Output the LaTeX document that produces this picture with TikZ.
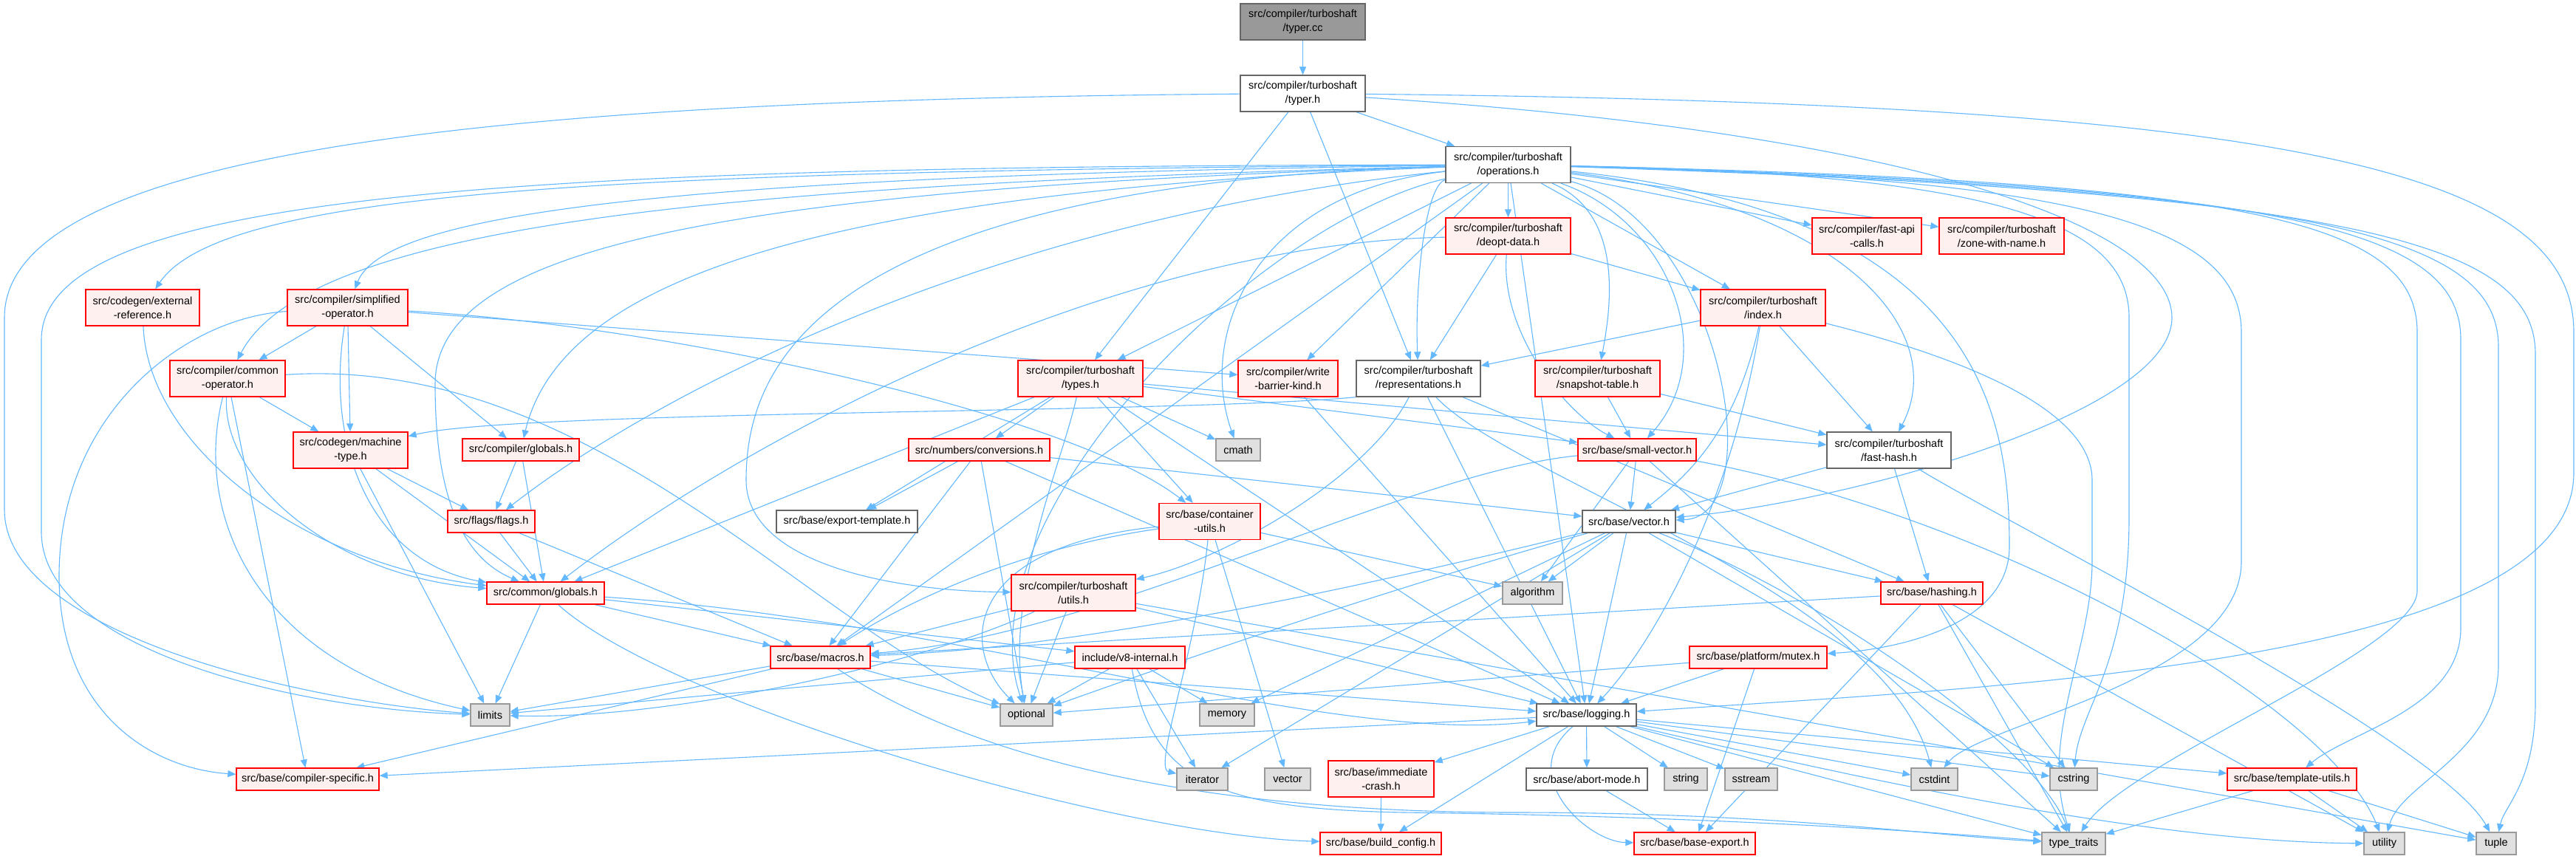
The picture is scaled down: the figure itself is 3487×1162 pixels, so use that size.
\documentclass[tikz,border=0pt]{standalone}
\usepackage{fontspec}
\setmainfont{Liberation Sans}
\usetikzlibrary{arrows.meta}
\definecolor{linkblue}{HTML}{63B8FF}
\definecolor{hdrfill}{HTML}{FFF0F0}
\definecolor{sysfill}{HTML}{E0E0E0}
\definecolor{sysline}{HTML}{999999}
\definecolor{plainline}{HTML}{666666}
\pgfdeclarelayer{bg}
\pgfsetlayers{bg,main}

\begin{document}
\begin{tikzpicture}[x=1pt,y=-1pt,
  box/.style={draw,line width=1.3pt,inner sep=0pt,align=center,minimum height=30pt,
    font=\fontsize{14.5}{19}\selectfont},
  two/.style={minimum height=49pt},
  hdr/.style={box,draw=red,fill=hdrfill},
  plain/.style={box,draw=plainline,fill=white},
  sys/.style={box,draw=sysline,fill=sysfill},
  rootbox/.style={box,draw=plainline,fill=sysline},
  dep/.style={draw=linkblue,line width=1.1pt,-{Triangle[length=11pt,width=9pt]}}]
\useasboundingbox (0,0) rectangle (3487,1162);

% files
\node[rootbox,two,minimum width=169] (typercc) at (1763.5,29.5) {src/compiler/turboshaft\\/typer.cc};
\node[plain,two,minimum width=169] (typerh) at (1763.5,126.5) {src/compiler/turboshaft\\/typer.h};
\node[plain,two,minimum width=169] (ops) at (2041.5,223) {src/compiler/turboshaft\\/operations.h};
\node[hdr,two,minimum width=169] (deopt) at (2041.5,319.5) {src/compiler/turboshaft\\/deopt-data.h};
\node[hdr,two,minimum width=148] (fastapi) at (2527,319.5) {src/compiler/fast-api\\-calls.h};
\node[hdr,two,minimum width=169] (zone) at (2709.5,319.5) {src/compiler/turboshaft\\/zone-with-name.h};
\node[hdr,two,minimum width=154] (extref) at (193,416.5) {src/codegen/external\\-reference.h};
\node[hdr,two,minimum width=163] (simpop) at (470.5,416.5) {src/compiler/simplified\\-operator.h};
\node[hdr,two,minimum width=169] (index) at (2386.5,416.5) {src/compiler/turboshaft\\/index.h};
\node[hdr,two,minimum width=156] (commonop) at (308,512.5) {src/compiler/common\\-operator.h};
\node[hdr,two,minimum width=169] (types) at (1462.5,512.5) {src/compiler/turboshaft\\/types.h};
\node[hdr,two,minimum width=135] (wbk) at (1743.5,512.5) {src/compiler/write\\-barrier-kind.h};
\node[plain,two,minimum width=168] (repr) at (1920,512.5) {src/compiler/turboshaft\\/representations.h};
\node[hdr,two,minimum width=169] (snap) at (2162.5,512.5) {src/compiler/turboshaft\\/snapshot-table.h};
\node[hdr,two,minimum width=155] (machtype) at (474.5,609.5) {src/codegen/machine\\-type.h};
\node[hdr,minimum width=158] (cglobals) at (705,609) {src/compiler/globals.h};
\node[hdr,minimum width=191] (conv) at (1325.5,609) {src/numbers/conversions.h};
\node[sys,minimum width=60] (cmath) at (1676,609) {cmath};
\node[hdr,minimum width=160] (smallvec) at (2216,609) {src/base/small-vector.h};
\node[plain,two,minimum width=168] (fasthash) at (2557,609.5) {src/compiler/turboshaft\\/fast-hash.h};
\node[hdr,minimum width=118] (flags) at (665,706) {src/flags/flags.h};
\node[plain,minimum width=191] (exptmpl) at (1146.5,706) {src/base/export-template.h};
\node[hdr,two,minimum width=137] (contutils) at (1637.5,706) {src/base/container\\-utils.h};
\node[plain,minimum width=126] (vectorh) at (2205,706) {src/base/vector.h};
\node[hdr,minimum width=159] (globals) at (738.5,803) {src/common/globals.h};
\node[hdr,two,minimum width=168] (utils) at (1453,802.5) {src/compiler/turboshaft\\/utils.h};
\node[sys,minimum width=81] (algorithm) at (2074.5,803) {algorithm};
\node[hdr,minimum width=138] (hashing) at (2615,803) {src/base/hashing.h};
\node[hdr,minimum width=135] (macros) at (1110.5,890) {src/base/macros.h};
\node[hdr,minimum width=149] (v8int) at (1529.5,890) {include/v8-internal.h};
\node[hdr,minimum width=186] (mutex) at (2380,890) {src/base/platform/mutex.h};
\node[sys,minimum width=53] (limits) at (663.5,968) {limits};
\node[sys,minimum width=71] (optional) at (1389.5,968) {optional};
\node[sys,minimum width=74] (memory) at (1661,968) {memory};
\node[plain,minimum width=135] (logging) at (2147.5,968) {src/base/logging.h};
\node[hdr,minimum width=193] (compspec) at (416.5,1055) {src/base/compiler-specific.h};
\node[sys,minimum width=69] (iterator) at (1627.5,1055) {iterator};
\node[sys,minimum width=62] (vector) at (1743,1055) {vector};
\node[hdr,two,minimum width=143] (immcrash) at (1869.5,1054.5) {src/base/immediate\\-crash.h};
\node[plain,minimum width=164] (abort) at (2148,1055) {src/base/abort-mode.h};
\node[sys,minimum width=58] (string) at (2282,1055) {string};
\node[sys,minimum width=71] (sstream) at (2370.5,1055) {sstream};
\node[sys,minimum width=63] (cstdint) at (2618.5,1055) {cstdint};
\node[sys,minimum width=64] (cstring) at (2807,1055) {cstring};
\node[hdr,minimum width=175] (templutils) at (3102.5,1055) {src/base/template-utils.h};
\node[hdr,minimum width=164] (buildcfg) at (1869,1142) {src/base/build\_config.h};
\node[hdr,minimum width=164] (baseexport) at (2294,1142) {src/base/base-export.h};
\node[sys,minimum width=86] (typetraits) at (2807,1142) {type\_traits};
\node[sys,minimum width=55] (utility) at (3227.5,1142) {utility};
\node[sys,minimum width=54] (tuple) at (3379,1142) {tuple};

\begin{pgfonlayer}{bg}
\fill[white] (0,0) rectangle (3487,1162);
% typer
\draw[dep] (typercc) -- (typerh);
\draw[dep] (typerh) -- (ops);
\draw[dep] (typerh) -- (types);
\draw[dep] (typerh) -- (repr);
\draw[dep] (typerh) .. controls (700,135) and (6,200) .. (6,430) -- (6,690) .. controls (6,860) and (420,950) .. (limits);
\draw[dep] (typerh) .. controls (3100,140) and (3484,230) .. (3484,450) -- (3484,640) .. controls (3484,900) and (2700,930) .. (logging);
\draw[dep] (typerh) .. controls (2600,180) and (2940,310) .. (2940,430) .. controls (2940,560) and (2500,680) .. (vectorh);
% operations.h
\draw[dep] (ops) -- (deopt);
\draw[dep] (ops) -- (fastapi);
\draw[dep] (ops) -- (zone);
\draw[dep] (ops) -- (index);
\draw[dep] (ops) -- (types);
\draw[dep] (ops) -- (wbk);
\draw[dep] (ops) -- (macros);
\draw[dep] (ops) -- (logging);
\draw[dep] (ops) .. controls (1930,250) and (1915,380) .. (repr);
\draw[dep] (ops) .. controls (2200,290) and (2180,420) .. (snap);
\draw[dep] (ops) .. controls (1700,260) and (1620,450) .. (cmath);
\draw[dep] (ops) .. controls (2260,300) and (2330,480) .. (smallvec);
\draw[dep] (ops) .. controls (2500,280) and (2640,450) .. (fasthash);
\draw[dep] (ops) .. controls (2330,300) and (2400,700) .. (vectorh);
\draw[dep] (ops) .. controls (1700,300) and (1300,700) .. (optional);
\draw[dep] (ops) .. controls (1100,250) and (1010,500) .. (1010,650) .. controls (1010,760) and (1200,800) .. (utils);
\draw[dep] (ops) .. controls (800,232) and (300,260) .. (extref);
\draw[dep] (ops) .. controls (900,238) and (520,290) .. (simpop);
\draw[dep] (ops) .. controls (1000,250) and (420,300) .. (commonop);
\draw[dep] (ops) .. controls (1100,260) and (760,380) .. (cglobals);
\draw[dep] (ops) .. controls (1300,300) and (850,560) .. (flags);
\draw[dep] (ops) .. controls (1000,255) and (589,330) .. (589,520) .. controls (589,700) and (640,760) .. (globals);
\draw[dep] (ops) .. controls (700,225) and (56,260) .. (56,460) -- (56,720) .. controls (56,880) and (400,960) .. (limits);
\draw[dep] (ops) .. controls (2700,235) and (2882,300) .. (2882,430) -- (2882,700) .. controls (2882,900) and (2815,960) .. (cstring);
\draw[dep] (ops) .. controls (2800,240) and (3034,300) .. (3034,450) -- (3034,760) .. controls (3034,920) and (2680,980) .. (cstdint);
\draw[dep] (ops) .. controls (3050,245) and (3272,300) .. (3272,450) -- (3272,800) .. controls (3272,880) and (2880,1030) .. (typetraits);
\draw[dep] (ops) .. controls (3100,250) and (3331,310) .. (3331,460) -- (3331,850) .. controls (3331,960) and (3180,990) .. (templutils);
\draw[dep] (ops) .. controls (3150,255) and (3382,320) .. (3382,470) -- (3382,900) .. controls (3382,1020) and (3250,1060) .. (utility);
\draw[dep] (ops) .. controls (3200,260) and (3432,330) .. (3432,480) -- (3432,950) .. controls (3432,1060) and (3390,1090) .. (tuple);
\draw[dep] (ops) .. controls (2680,290) and (2720,560) .. (2720,740) .. controls (2720,850) and (2560,880) .. (mutex);
% deopt-data.h
\draw[dep] (deopt) -- (index);
\draw[dep] (deopt) -- (repr);
\draw[dep] (deopt) .. controls (1500,330) and (1000,600) .. (globals);
\draw[dep] (deopt) .. controls (2030,450) and (2120,560) .. (smallvec);
% external-reference.h, simplified-operator.h
\draw[dep] (extref) .. controls (200,600) and (400,760) .. (globals);
\draw[dep] (simpop) -- (commonop);
\draw[dep] (simpop) -- (machtype);
\draw[dep] (simpop) -- (cglobals);
\draw[dep] (simpop) -- (wbk);
\draw[dep] (simpop) .. controls (900,440) and (1450,560) .. (contutils);
\draw[dep] (simpop) .. controls (440,600) and (500,760) .. (globals);
\draw[dep] (simpop) .. controls (250,430) and (80,560) .. (80,780) .. controls (80,960) and (200,1040) .. (compspec);
% index.h
\draw[dep] (index) -- (repr);
\draw[dep] (index) -- (fasthash);
\draw[dep] (index) .. controls (2350,580) and (2290,640) .. (vectorh);
\draw[dep] (index) .. controls (2340,700) and (2230,880) .. (logging);
\draw[dep] (index) .. controls (2600,470) and (2832,540) .. (2832,650) -- (2832,760) .. controls (2832,880) and (2760,1000) .. (typetraits);
% common-operator.h
\draw[dep] (commonop) -- (machtype);
\draw[dep] (commonop) -- (compspec);
\draw[dep] (commonop) .. controls (300,650) and (450,780) .. (globals);
\draw[dep] (commonop) .. controls (260,700) and (350,900) .. (limits);
\draw[dep] (commonop) .. controls (800,480) and (1100,850) .. (optional);
% types.h
\draw[dep] (types) -- (conv);
\draw[dep] (types) -- (cmath);
\draw[dep] (types) -- (exptmpl);
\draw[dep] (types) -- (contutils);
\draw[dep] (types) -- (smallvec);
\draw[dep] (types) -- (fasthash);
\draw[dep] (types) -- (globals);
\draw[dep] (types) -- (logging);
\draw[dep] (types) .. controls (1440,620) and (1360,800) .. (optional);
% write-barrier-kind.h, representations.h, snapshot-table.h
\draw[dep] (wbk) -- (logging);
\draw[dep] (repr.south west) .. controls (1600,560) and (700,555) .. (machtype);
\draw[dep] (repr) .. controls (1850,650) and (1650,760) .. (utils);
\draw[dep] (repr) -- (logging);
\draw[dep] (repr) -- (hashing);
\draw[dep] (repr) .. controls (2050,650) and (2550,800) .. (cstdint);
\draw[dep] (snap) -- (smallvec);
\draw[dep] (snap) -- (fasthash);
% machine-type.h, compiler/globals.h
\draw[dep] (machtype) -- (flags);
\draw[dep] (machtype) -- (limits);
\draw[dep] (machtype) -- (globals);
\draw[dep] (cglobals) -- (flags);
\draw[dep] (cglobals) -- (globals);
% conversions.h
\draw[dep] (conv) -- (exptmpl);
\draw[dep] (conv) -- (macros);
\draw[dep] (conv) -- (optional);
\draw[dep] (conv) -- (logging);
\draw[dep] (conv) -- (vectorh);
% small-vector.h, fast-hash.h
\draw[dep] (smallvec) -- (vectorh);
\draw[dep] (smallvec) -- (algorithm);
\draw[dep] (smallvec) .. controls (1900,640) and (1500,860) .. (macros);
\draw[dep] (smallvec) -- (typetraits);
\draw[dep] (smallvec) .. controls (2700,700) and (3150,950) .. (utility);
\draw[dep] (fasthash) -- (vectorh);
\draw[dep] (fasthash) -- (hashing);
\draw[dep] (fasthash) .. controls (2700,700) and (3300,1000) .. (tuple);
% flags.h, container-utils.h
\draw[dep] (flags) -- (globals);
\draw[dep] (flags) -- (macros);
\draw[dep] (contutils) -- (algorithm);
\draw[dep] (contutils) .. controls (1300,740) and (1300,880) .. (optional);
\draw[dep] (contutils) -- (vector);
\draw[dep] (contutils) .. controls (1620,880) and (1560,1040) .. (iterator);
\draw[dep] (contutils) .. controls (1400,740) and (1250,800) .. (macros);
% vector.h
\draw[dep] (vectorh) -- (algorithm);
\draw[dep] (vectorh) -- (hashing);
\draw[dep] (vectorh) -- (logging);
\draw[dep] (vectorh) .. controls (1700,830) and (1400,880) .. (macros);
\draw[dep] (vectorh) -- (memory);
\draw[dep] (vectorh) -- (iterator);
\draw[dep] (vectorh) -- (cstring);
\draw[dep] (vectorh) .. controls (2450,800) and (2750,1000) .. (typetraits);
\draw[dep] (vectorh) .. controls (1800,820) and (1500,930) .. (optional);
% common/globals.h
\draw[dep] (globals) -- (macros);
\draw[dep] (globals) -- (v8int);
\draw[dep] (globals) -- (limits);
\draw[dep] (globals) .. controls (1300,840) and (1800,1010) .. (logging);
\draw[dep] (globals) .. controls (900,950) and (1500,1130) .. (buildcfg);
% hashing.h
\draw[dep] (hashing) -- (macros);
\draw[dep] (hashing) -- (baseexport);
\draw[dep] (hashing) -- (typetraits);
\draw[dep] (hashing) -- (utility);
\draw[dep] (hashing) -- (cstring);
% turboshaft/utils.h
\draw[dep] (utils) -- (macros);
\draw[dep] (utils) .. controls (1250,900) and (900,975) .. (limits);
\draw[dep] (utils) -- (optional);
\draw[dep] (utils) -- (logging);
\draw[dep] (utils) -- (tuple);
% macros.h, v8-internal.h, mutex.h
\draw[dep] (macros) -- (limits);
\draw[dep] (macros) -- (compspec);
\draw[dep] (macros) -- (logging);
\draw[dep] (macros) -- (optional);
\draw[dep] (macros) .. controls (1350,1050) and (1700,1100) .. (2050,1100) .. controls (2400,1100) and (2600,1130) .. (typetraits);
\draw[dep] (v8int) -- (optional);
\draw[dep] (v8int) -- (memory);
\draw[dep] (v8int) -- (iterator);
\draw[dep] (v8int) -- (limits);
\draw[dep] (v8int) .. controls (1560,1060) and (1650,1095) .. (1900,1100) .. controls (2300,1105) and (2600,1125) .. (typetraits);
\draw[dep] (mutex) -- (logging);
\draw[dep] (mutex) -- (optional);
\draw[dep] (mutex) -- (baseexport);
% logging.h
\draw[dep] (logging) -- (compspec);
\draw[dep] (logging) -- (immcrash);
\draw[dep] (logging) -- (buildcfg);
\draw[dep] (logging) -- (abort);
\draw[dep] (logging) -- (string);
\draw[dep] (logging) -- (sstream);
\draw[dep] (logging) -- (cstdint);
\draw[dep] (logging) -- (cstring);
\draw[dep] (logging) -- (templutils);
\draw[dep] (logging) -- (typetraits);
\draw[dep] (logging) .. controls (2500,1050) and (2900,1140) .. (utility);
\draw[dep] (logging) .. controls (2050,1050) and (2150,1140) .. (baseexport);
% leaves
\draw[dep] (immcrash) -- (buildcfg);
\draw[dep] (abort) -- (baseexport);
\draw[dep] (templutils) -- (typetraits);
\draw[dep] (templutils) -- (utility);
\draw[dep] (templutils) -- (tuple);
\end{pgfonlayer}
\end{tikzpicture}
\end{document}
